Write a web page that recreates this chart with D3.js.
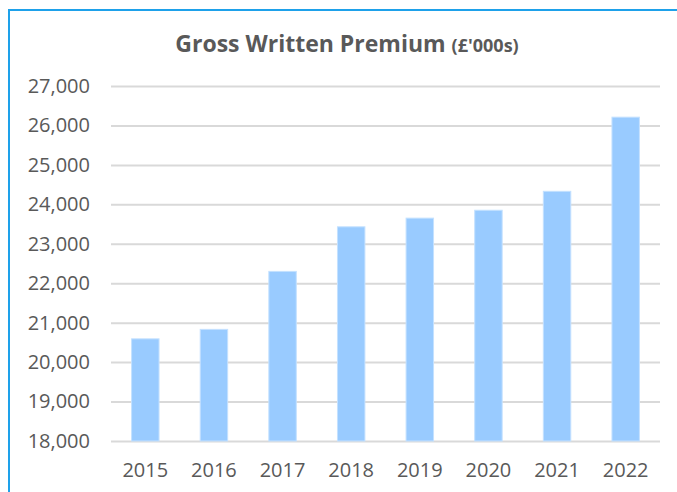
<!DOCTYPE html>
<html>
<head>
<meta charset="utf-8">
<script src="https://d3js.org/d3.v7.min.js"></script>
<style>
	body { margin: 0; padding: 0; background: #fff; }
	svg { display: block; font-family: "Open Sans", sans-serif; }
	.grid line { stroke: #d9d9d9; stroke-width: 2; }
	.grid path { stroke: none; }
	.axis text { fill: #595959; font-size: 20px; font-family: "Open Sans", sans-serif; }
	.axis path, .axis line { stroke: none; }
	.bar { fill: #99cbff; stroke: #c4e1ff; stroke-width: 1; }
</style>
</head>
<body>
<div id="chart"></div>
<script>
	var years = ["2015", "2016", "2017", "2018", "2019", "2020", "2021", "2022"];
	var premium = [20590, 20830, 22300, 23430, 23650, 23850, 24330, 26210];
	var yTicks = [18000, 19000, 20000, 21000, 22000, 23000, 24000, 25000, 26000, 27000];

	var W = 677, H = 492,
		mLeft = 111, mRight = 660, mTop = 86, mBottom = 441;

	var svg = d3.select("#chart").append("svg")
		.attr("width", W)
		.attr("height", H);

	// blue frame edge (top and left only visible)
	svg.append("path")
		.attr("d", "M9," + H + "V10H" + W)
		.attr("fill", "none")
		.attr("stroke", "#1ea1ea")
		.attr("stroke-width", 2);

	var x = d3.scaleBand()
		.domain(years)
		.range([mLeft, mRight])
		.paddingInner(0.6)
		.paddingOuter(0.3);

	var y = d3.scaleLinear()
		.domain([18000, 27000])
		.range([mBottom, mTop]);

	svg.append("g")
		.attr("class", "grid")
		.attr("transform", "translate(" + mLeft + ",0)")
		.call(d3.axisLeft(y).tickValues(yTicks).tickSize(-(mRight - mLeft)).tickFormat(""));

	svg.selectAll(".bar")
		.data(premium)
		.enter().append("rect")
		.attr("class", "bar")
		.attr("x", function(d, i) { return x(years[i]); })
		.attr("width", x.bandwidth())
		.attr("y", function(d) { return y(d); })
		.attr("height", function(d) { return y(18000) - y(d); });

	svg.append("g")
		.attr("class", "y axis")
		.attr("transform", "translate(" + (mLeft - 21) + ",0)")
		.call(d3.axisLeft(y).tickValues(yTicks).tickSize(0).tickPadding(0).tickFormat(d3.format(",")))
		.attr("font-family", null).attr("font-size", null);

	svg.append("g")
		.attr("class", "x axis")
		.attr("transform", "translate(0," + mBottom + ")")
		.call(d3.axisBottom(x).tickSize(0).tickPadding(22))
		.attr("font-family", null).attr("font-size", null);

	var title = svg.append("text")
		.attr("x", 347)
		.attr("y", 52)
		.attr("text-anchor", "middle")
		.style("fill", "#595959")
		.style("font-weight", "bold");
	title.append("tspan").style("font-size", "23px").text("Gross Written Premium ");
	title.append("tspan").style("font-size", "18px").text("(£'000s)");
</script>
</body>
</html>
